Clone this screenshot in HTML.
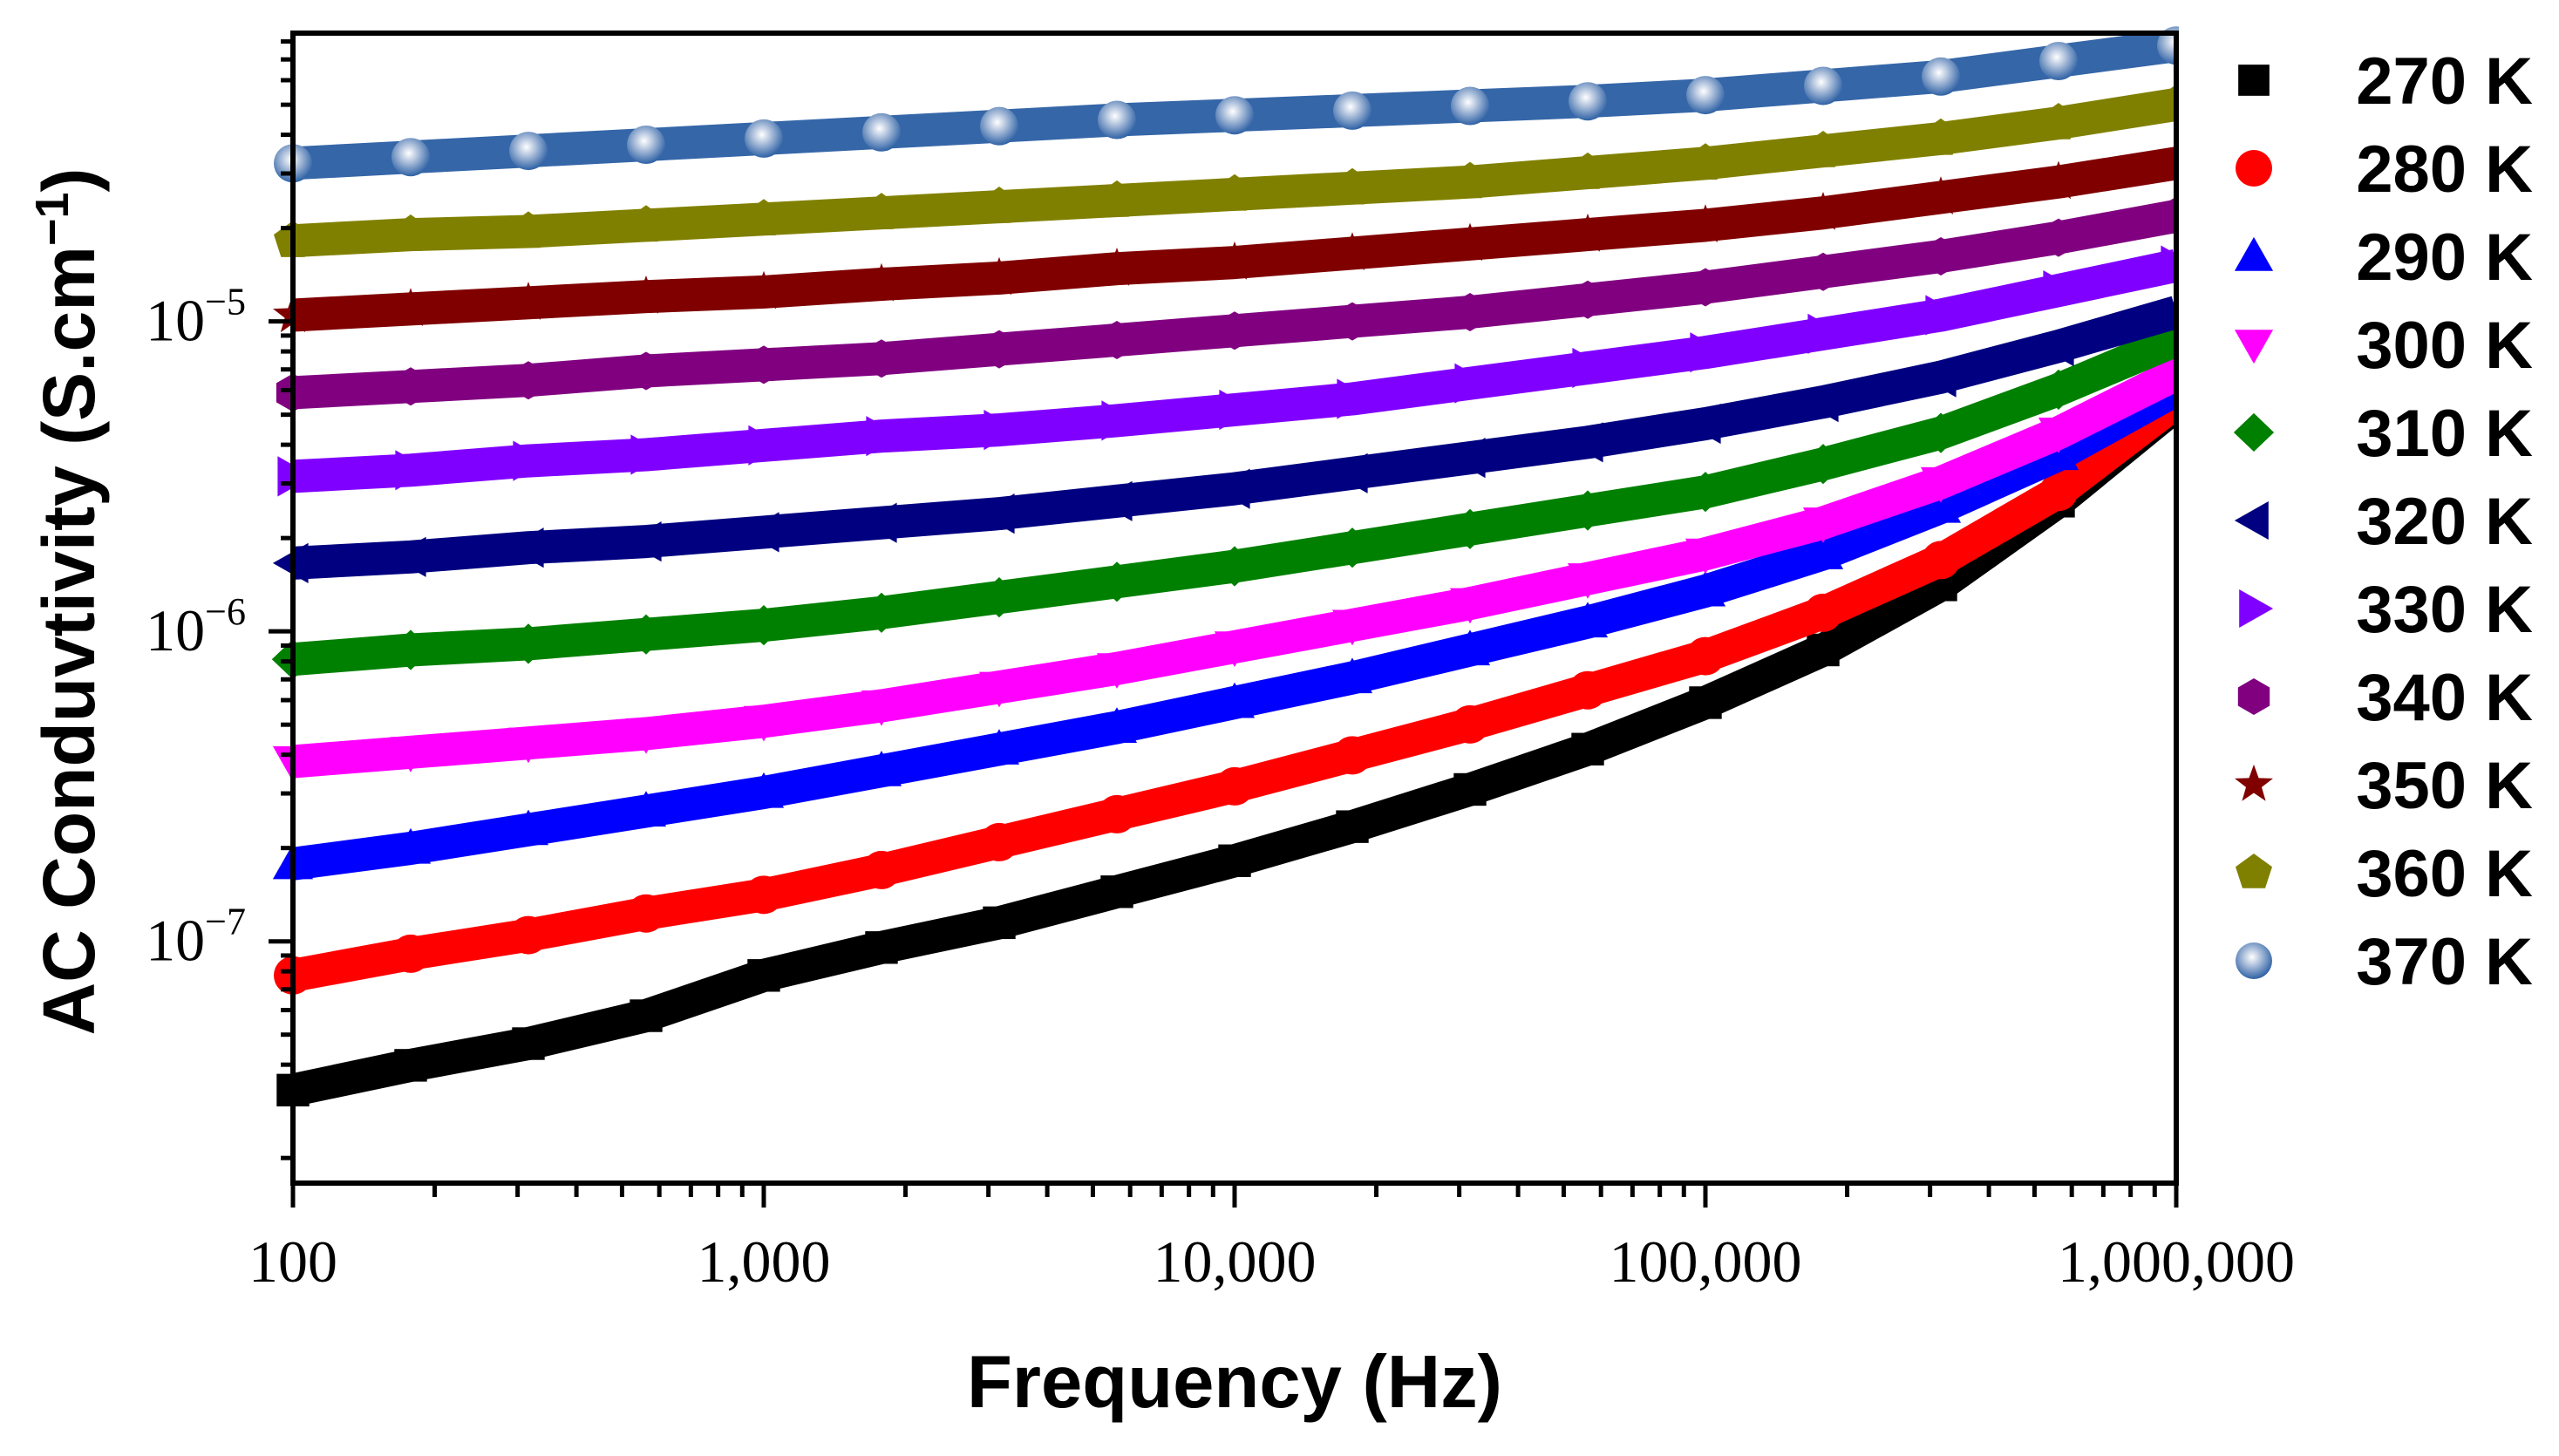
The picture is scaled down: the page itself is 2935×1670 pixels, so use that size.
<!DOCTYPE html>
<html><head><meta charset="utf-8"><style>
html,body{margin:0;padding:0;background:#fff;}
svg{display:block;}
</style></head><body>
<svg id="chart" width="2935" height="1670" viewBox="0 0 2935 1670" xmlns="http://www.w3.org/2000/svg">
<defs>
<radialGradient id="ballGrad" cx="0.45" cy="0.4" r="0.6">
<stop offset="0" stop-color="#ffffff"/><stop offset="0.35" stop-color="#b8c8e0"/><stop offset="1" stop-color="#2f62a5"/>
</radialGradient>
</defs>
<g id="plot"></g>
<g id="axes"></g>
<g id="legend"></g>
<text x="1416" y="1614" text-anchor="middle" font-family="Liberation Sans, Arial, sans-serif" font-weight="bold" font-size="85">Frequency (Hz)</text>
<text transform="translate(108,690) rotate(-90)" text-anchor="middle" font-family="Liberation Sans, Arial, sans-serif" font-weight="bold" font-size="84">AC Conduvtivity (S.cm<tspan font-size="54" dy="-30">−1</tspan><tspan dy="30">)</tspan></text>
</svg>
<script>
// log10 frequency, every quarter decade from 100 Hz to 1 MHz
const logFreq = [2,2.25,2.5,2.75,3,3.25,3.5,3.75,4,4.25,4.5,4.75,5,5.25,5.5,5.75,6];
const seriesNames = ["270 K","280 K","290 K","300 K","310 K","320 K","330 K","340 K","350 K","360 K","370 K"];
// log10 of AC conductivity (S/cm)
const s270 = [-7.48,-7.40,-7.33,-7.24,-7.11,-7.02,-6.94,-6.84,-6.74,-6.63,-6.51,-6.38,-6.23,-6.06,-5.85,-5.58,-5.27];
const s280 = [-7.11,-7.04,-6.98,-6.91,-6.85,-6.77,-6.68,-6.59,-6.50,-6.40,-6.30,-6.19,-6.08,-5.94,-5.77,-5.55,-5.26];
const s290 = [-6.75,-6.70,-6.64,-6.58,-6.52,-6.45,-6.38,-6.31,-6.23,-6.15,-6.06,-5.97,-5.87,-5.75,-5.60,-5.43,-5.22];
const s300 = [-6.42,-6.39,-6.36,-6.33,-6.29,-6.24,-6.18,-6.12,-6.05,-5.98,-5.91,-5.83,-5.75,-5.65,-5.52,-5.36,-5.17];
const s310 = [-6.09,-6.06,-6.04,-6.01,-5.98,-5.94,-5.89,-5.84,-5.79,-5.73,-5.67,-5.61,-5.55,-5.46,-5.36,-5.22,-5.06];
const s320 = [-5.78,-5.76,-5.73,-5.71,-5.68,-5.65,-5.62,-5.58,-5.54,-5.49,-5.44,-5.39,-5.33,-5.26,-5.18,-5.08,-4.97];
const s330 = [-5.50,-5.48,-5.45,-5.43,-5.40,-5.37,-5.35,-5.32,-5.285,-5.25,-5.20,-5.15,-5.10,-5.04,-4.98,-4.90,-4.82];
const s340 = [-5.23,-5.21,-5.19,-5.16,-5.14,-5.12,-5.09,-5.06,-5.03,-5.00,-4.97,-4.93,-4.89,-4.84,-4.79,-4.73,-4.66];
const s350 = [-4.98,-4.96,-4.94,-4.92,-4.905,-4.88,-4.86,-4.83,-4.81,-4.78,-4.75,-4.72,-4.69,-4.65,-4.60,-4.55,-4.49];
const s360 = [-4.74,-4.72,-4.71,-4.69,-4.67,-4.65,-4.63,-4.61,-4.59,-4.57,-4.55,-4.52,-4.49,-4.45,-4.41,-4.36,-4.30];
const s370 = [-4.49,-4.47,-4.45,-4.43,-4.41,-4.39,-4.37,-4.35,-4.335,-4.32,-4.305,-4.29,-4.27,-4.24,-4.21,-4.16,-4.11];
const xTickLabels = ["100","1,000","10,000","100,000","1,000,000"];
const xTickLogs = [2,3,4,5,6];
const yTickLogs = [-7,-6,-5];
const yTickExps = ["−7","−6","−5"];

const allSeries = [s270,s280,s290,s300,s310,s320,s330,s340,s350,s360,s370];
const colors = ["#000000","#ff0000","#0000ff","#ff00ff","#008000","#000080","#8000ff","#800080","#800000","#808000","#3566a8"];
const shapes = ["square","circle","up","down","diamond","left","right","hex","star","pent","ball"];

const L=336,R=2496,T=38,B=1357;
const xMin=2,xMax=6,yTop=-4.07,yBot=-7.78;
function X(v){return L+(v-xMin)/(xMax-xMin)*(R-L);}
function Y(v){return T+(yTop-v)/(yTop-yBot)*(B-T);}
const NS="http://www.w3.org/2000/svg";
function mk(tag,attrs,parent){const e=document.createElementNS(NS,tag);for(const k in attrs)e.setAttribute(k,attrs[k]);parent.appendChild(e);return e;}

function marker(shape,cx,cy,r,color,parent){
  let e;
  const pts=(arr)=>arr.map(p=>(cx+p[0]*r).toFixed(1)+","+(cy+p[1]*r).toFixed(1)).join(" ");
  if(shape==="square"){e=mk("rect",{x:cx-r*0.85,y:cy-r*0.85,width:r*1.7,height:r*1.7,fill:color},parent);}
  else if(shape==="circle"){e=mk("circle",{cx:cx,cy:cy,r:r,fill:color},parent);}
  else if(shape==="ball"){e=mk("circle",{cx:cx,cy:cy,r:r,fill:"url(#ballGrad)"},parent);}
  else if(shape==="up"){e=mk("polygon",{points:pts([[0,-1.05],[1.05,0.8],[-1.05,0.8]]),fill:color},parent);}
  else if(shape==="down"){e=mk("polygon",{points:pts([[0,1.05],[1.05,-0.8],[-1.05,-0.8]]),fill:color},parent);}
  else if(shape==="left"){e=mk("polygon",{points:pts([[-1.05,0],[0.8,-1.05],[0.8,1.05]]),fill:color},parent);}
  else if(shape==="right"){e=mk("polygon",{points:pts([[1.05,0],[-0.8,-1.05],[-0.8,1.05]]),fill:color},parent);}
  else if(shape==="diamond"){e=mk("polygon",{points:pts([[0,-1.05],[1.1,0],[0,1.05],[-1.1,0]]),fill:color},parent);}
  else if(shape==="hex"){const a=[];for(let i=0;i<6;i++){const t=Math.PI/6+i*Math.PI/3;a.push([Math.cos(t),Math.sin(t)]);}e=mk("polygon",{points:pts(a),fill:color},parent);}
  else if(shape==="pent"){const a=[];for(let i=0;i<5;i++){const t=-Math.PI/2+i*2*Math.PI/5;a.push([Math.cos(t)*1.05,Math.sin(t)*1.05]);}e=mk("polygon",{points:pts(a),fill:color},parent);}
  else if(shape==="star"){const a=[];for(let i=0;i<10;i++){const t=-Math.PI/2+i*Math.PI/5;const rr=i%2?0.45:1.1;a.push([Math.cos(t)*rr,Math.sin(t)*rr]);}e=mk("polygon",{points:pts(a),fill:color},parent);}
  return e;
}

const plot=document.getElementById("plot");
allSeries.forEach((s,i)=>{
  const g=mk("g",{},plot);
  
  
  const d=s.map((v,j)=>(j?"L":"M")+X(logFreq[j]).toFixed(1)+","+Y(v).toFixed(1)).join(" ");
  const band=mk("path",{d:d,fill:"none",stroke:colors[i],"stroke-width":38,"stroke-linejoin":"round","stroke-linecap":"butt"},g);
  
  
  s.forEach((v,j)=>{
    const m=marker(shapes[i],X(logFreq[j]),Y(v),22,colors[i],g);
    
    
  });
});

const axes=document.getElementById("axes");
const cover=mk("rect",{x:R+3,y:0,width:60,height:B+40,fill:"#fff"},axes);


const frame=mk("rect",{x:L,y:T,width:R-L,height:B-T,fill:"none",stroke:"#000","stroke-width":6},axes);


for(let dec=2;dec<=6;dec++){
  for(let k=1;k<=9;k++){
    if(dec===6&&k>1)break;
    const lx=dec+Math.log10(k);
    const len=k===1?28:16;
    const t=mk("line",{x1:X(lx),x2:X(lx),y1:B,y2:B+len,stroke:"#000","stroke-width":5},axes);
    
    
  }
}
xTickLogs.forEach((v,i)=>{
  const t=mk("text",{x:X(v),y:1470,"text-anchor":"middle","font-family":"Liberation Serif, Times New Roman, serif","font-size":68},axes);
  t.textContent=xTickLabels[i];
  
  
});
for(let dec=-8;dec<=-5;dec++){
  for(let k=1;k<=9;k++){
    const ly=dec+Math.log10(k);
    if(ly<yBot||ly>yTop)continue;
    const len=k===1?28:14;
    const t=mk("line",{x1:L-len,x2:L,y1:Y(ly),y2:Y(ly),stroke:"#000","stroke-width":5},axes);
    
    
  }
}
yTickLogs.forEach((v,i)=>{
  const t=mk("text",{x:282,y:Y(v)+22,"text-anchor":"end","font-family":"Liberation Serif, Times New Roman, serif","font-size":68},axes);
  t.textContent="10";
  const sp=mk("tspan",{"font-size":44,dy:-30},t);
  sp.textContent=yTickExps[i];
  
  
});

const legend=document.getElementById("legend");
seriesNames.forEach((n,i)=>{
  const y=92+i*101;
  const g=mk("g",{},legend);
  
  
  marker(shapes[i],2585,y,21,colors[i],g);
  const t=mk("text",{x:2905,y:y+27,"text-anchor":"end","font-family":"Liberation Sans, Arial, sans-serif","font-weight":"bold","font-size":76},g);
  t.textContent=n;
});
</script>
</body></html>
